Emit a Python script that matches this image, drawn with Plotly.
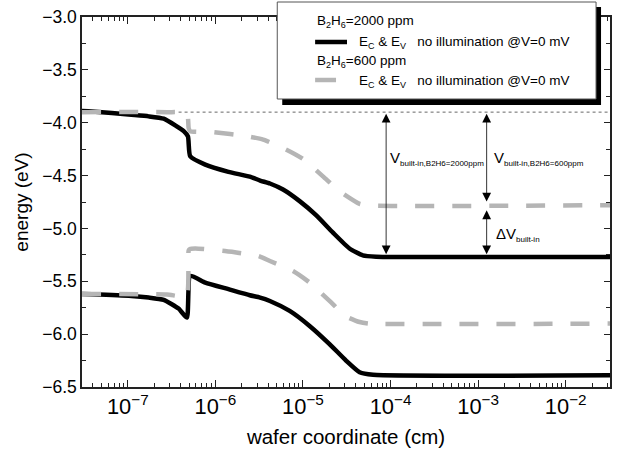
import numpy as np
import plotly.graph_objects as go

# ---------------- data ----------------
# B2H6 = 2000 ppm : conduction band (Ec) and valence band (Ev)
x_2000 = [3.0e-8, 3.9e-8, 1.1e-7, 1.73e-7, 2.57e-7, 3.48e-7, 4.35e-7, 4.86e-7, 5.16e-7,
          7.66e-7, 1.41e-6, 2.47e-6, 3.24e-6, 4.19e-6, 5.92e-6, 9.16e-6, 1.42e-5,
          2.20e-5, 3.40e-5, 4.82e-5, 6.85e-5, 3.2e-2]
ec_2000 = [-3.89, -3.893, -3.925, -3.94, -3.962, -4.025, -4.08, -4.13, -4.318,
           -4.396, -4.465, -4.51, -4.547, -4.575, -4.632, -4.742, -4.877,
           -5.04, -5.19, -5.255, -5.267, -5.27]
xv_2000 = [3.0e-8, 3.9e-8, 1.1e-7, 1.73e-7, 2.57e-7, 3.8e-7, 4.73e-7, 5.16e-7, 7.66e-7,
           1.41e-6, 2.47e-6, 3.24e-6, 4.19e-6, 7.05e-6, 1.19e-5, 2.01e-5, 3.12e-5,
           4.43e-5, 6.31e-5, 3.2e-2]
ev_2000 = [-5.62, -5.623, -5.639, -5.654, -5.676, -5.758, -5.843, -5.45, -5.512,
           -5.575, -5.632, -5.654, -5.686, -5.78, -5.922, -6.094, -6.252,
           -6.36, -6.384, -6.39]

# B2H6 = 600 ppm
x_600 = [3.0e-8, 2.8e-7, 4.73e-7, 4.95e-7, 5.13e-7, 9.1e-7, 2.39e-6, 3.51e-6, 6.47e-6,
         1.0e-5, 1.69e-5, 2.62e-5, 4.43e-5, 5.75e-5, 3.2e-2]
ec_600 = [-3.9, -3.9, -3.91, -4.05, -4.08, -4.088, -4.13, -4.16, -4.255,
          -4.343, -4.507, -4.648, -4.767, -4.783, -4.78]
xv_600 = [3.0e-8, 2.8e-7, 4.68e-7, 4.95e-7, 5.13e-7, 5.9e-7, 1.29e-6, 3.1e-6, 4.19e-6,
          7.69e-6, 1.19e-5, 2.01e-5, 3.12e-5, 4.43e-5, 5.75e-5, 3.2e-2]
ev_600 = [-5.62, -5.625, -5.64, -5.21, -5.195, -5.19, -5.214, -5.261, -5.308,
          -5.403, -5.512, -5.686, -5.833, -5.885, -5.9, -5.9]

# reference level (dotted) and built-in voltage markers
ref_x = [3.8e-7, 3.2e-2]
ref_level = -3.9
arrow_x = [8.9e-5, 1.25e-3]          # positions of the vertical arrows
flat_2000 = -5.27
flat_600 = -4.78

x_range = [3.0e-8, 3.2e-2]
y_range = [-6.5, -3.0]

BLACK = "#000000"
GRAY = "#b5b5b5"
FONT = "Arial, Liberation Sans, sans-serif"
LW = 4.5
SM = 0.5

fig = go.Figure()

fig.add_trace(go.Scatter(x=ref_x, y=[ref_level] * len(ref_x), mode="lines",
                         line=dict(color="#666666", width=1, dash="dot"),
                         showlegend=False, hoverinfo="skip"))
fig.add_trace(go.Scatter(x=x_2000, y=ec_2000, mode="lines",
                         line=dict(color=BLACK, width=LW, shape="spline", smoothing=SM),
                         showlegend=False))
fig.add_trace(go.Scatter(x=xv_2000, y=ev_2000, mode="lines",
                         line=dict(color=BLACK, width=LW, shape="spline", smoothing=SM),
                         showlegend=False))
fig.add_trace(go.Scatter(x=x_600, y=ec_600, mode="lines",
                         line=dict(color=GRAY, width=LW, dash="19px,18px", shape="spline",
                                   smoothing=SM), showlegend=False))
fig.add_trace(go.Scatter(x=xv_600, y=ev_600, mode="lines",
                         line=dict(color=GRAY, width=LW, dash="19px,18px", shape="spline",
                                   smoothing=SM), showlegend=False))

# ---- plot-area geometry helpers (pixels -> paper) ----
L, R, T, B = 82, 612, 17, 387
W, H = 618, 452


def px(xp):
    return (xp - L) / (R - L)


def py(yp):
    return (B - yp) / (B - T)


# ---- arrows ----
lx = [np.log10(v) for v in arrow_x]
arrows = [
    (lx[0], ref_level, flat_2000 + 0.025),
    (lx[1], ref_level, flat_600 + 0.035),
    (lx[1], flat_600 - 0.035, flat_2000 + 0.025),
]
annotations = []
for ax_, y0, y1 in arrows:
    annotations.append(dict(x=ax_, y=y1, ax=ax_, ay=y0, xref="x", yref="y",
                            axref="x", ayref="y", text="", showarrow=True,
                            arrowhead=2, startarrowhead=2, arrowside="end+start",
                            arrowsize=2.2, startarrowsize=2.2, arrowwidth=0.8,
                            arrowcolor=BLACK, standoff=0, startstandoff=0))

SUB = '<sub><span style="font-size:8px">{}</span></sub>'
annotations += [
    dict(x=lx[0], y=-4.34, xref="x", yref="y", xshift=2, xanchor="left", yanchor="middle",
         text='V' + SUB.format('built-in,B2H6=2000ppm'), showarrow=False,
         font=dict(size=15, color=BLACK, family=FONT)),
    dict(x=lx[1], y=-4.34, xref="x", yref="y", xshift=5, xanchor="left", yanchor="middle",
         text='V' + SUB.format('built-in,B2H6=600ppm'), showarrow=False,
         font=dict(size=15, color=BLACK, family=FONT)),
    dict(x=lx[1], y=-5.06, xref="x", yref="y", xshift=7, xanchor="left", yanchor="middle",
         text='\u0394V' + SUB.format('built-in'), showarrow=False,
         font=dict(size=15, color=BLACK, family=FONT)),
]

# ---- manual legend ----
LSUB = '<sub><span style="font-size:9px">{}</span></sub>'
leg_text_1 = 'B' + LSUB.format('2') + 'H' + LSUB.format('6') + '=2000 ppm'
leg_text_2 = 'B' + LSUB.format('2') + 'H' + LSUB.format('6') + '=600 ppm'
leg_item = ('E' + LSUB.format('C') + ' &amp; E' + LSUB.format('V') +
            '\u00a0\u00a0 no illumination @V=0 mV')
for txt, xp, yp in [(leg_text_1, 316, 22), (leg_item, 358, 43),
                    (leg_text_2, 316, 62), (leg_item, 358, 81)]:
    annotations.append(dict(x=px(xp), y=py(yp), xref="paper", yref="paper",
                            xanchor="left", yanchor="middle", text=txt, showarrow=False,
                            font=dict(size=13.5, color=BLACK, family=FONT)))

shapes = [
    dict(type="rect", xref="paper", yref="paper", x0=px(283), x1=px(603), y0=py(105), y1=py(7),
         fillcolor="black", line=dict(width=0), layer="above"),
    dict(type="rect", xref="paper", yref="paper", x0=px(278), x1=px(598), y0=py(99), y1=py(2),
         fillcolor="white", line=dict(color="#555555", width=1), layer="above"),
    dict(type="line", xref="paper", yref="paper", x0=px(316), x1=px(348), y0=py(42), y1=py(42),
         line=dict(color=BLACK, width=4.5), layer="above"),
    dict(type="line", xref="paper", yref="paper", x0=px(316), x1=px(337), y0=py(80), y1=py(80),
         line=dict(color=GRAY, width=4.5), layer="above"),
]

axis_common = dict(showline=True, linecolor="#222222", linewidth=1.5, mirror="allticks",
                   ticks="inside", tickcolor="#222222", tickwidth=1.3, showgrid=False,
                   zeroline=False, tickfont=dict(size=17.5, color=BLACK, family=FONT))

fig.update_layout(
    width=W, height=H,
    margin=dict(l=L, r=W - R, t=T, b=H - B),
    paper_bgcolor="white", plot_bgcolor="white",
    font=dict(family=FONT, color=BLACK),
    xaxis=dict(type="log", range=[np.log10(x_range[0]), np.log10(x_range[1])],
               dtick=1, exponentformat="power", showexponent="all", ticklen=7,
               minor=dict(ticks="inside", ticklen=4, tickwidth=1.2, tickcolor="#222222",
                          showgrid=False),
               title=dict(text="wafer coordinate (cm)", font=dict(size=20.5, family=FONT), standoff=12),
               **axis_common),
    yaxis=dict(range=y_range, dtick=0.5, tick0=-3.0, tickformat=".1f", ticklen=6,
               minor=dict(ticks="inside", ticklen=4, tickwidth=1.2, dtick=0.25,
                          tickcolor="#222222", showgrid=False),
               title=dict(text="energy (eV)", font=dict(size=19, family=FONT), standoff=9),
               **axis_common),
    shapes=shapes,
    annotations=annotations,
    showlegend=False,
)

fig.write_html("out.html", config={"displayModeBar": False},
               post_script="document.body.style.margin='0';")
